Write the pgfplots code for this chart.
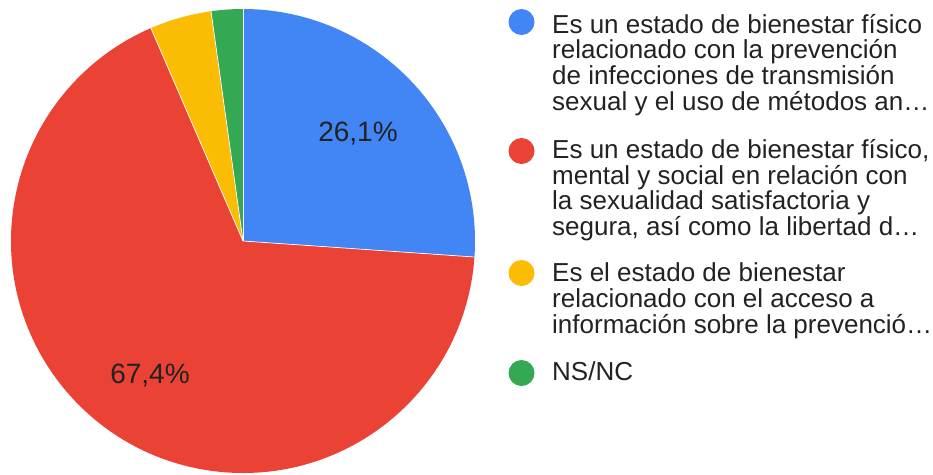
\documentclass[border=0pt]{standalone}
\usepackage{pgfplots}
\pgfplotsset{compat=1.18}
\usepackage{fontspec}
\setmainfont{Liberation Sans}

\definecolor{gblue}{HTML}{4285F4}
\definecolor{gred}{HTML}{EA4335}
\definecolor{gyellow}{HTML}{FBBC04}
\definecolor{ggreen}{HTML}{34A853}
\definecolor{txt}{HTML}{222222}

% shares in percent
\def\vBlue{26.1}
\def\vRed{67.4}
\def\vYellow{4.3}
\def\vGreen{2.2}

\begin{document}
\begin{tikzpicture}
\begin{axis}[
    name=ax,
    width=933pt, height=474pt, scale only axis,
    xmin=0, xmax=933, ymin=0, ymax=474, y dir=reverse,
    hide axis, clip=false,
  ]
% pie, centre (243,241), radius 232, clockwise from 12 o'clock
\fill[gblue] (axis cs:243,241) -- ++(90:232pt)
  arc[start angle=90, delta angle={-3.6*\vBlue}, radius=232pt] -- cycle;
\fill[gred] (axis cs:243,241) -- ++({90-3.6*\vBlue}:232pt)
  arc[start angle={90-3.6*\vBlue}, delta angle={-3.6*\vRed}, radius=232pt] -- cycle;
\fill[gyellow] (axis cs:243,241) -- ++({90-3.6*(\vBlue+\vRed)}:232pt)
  arc[start angle={90-3.6*(\vBlue+\vRed)}, delta angle={-3.6*\vYellow}, radius=232pt] -- cycle;
\fill[ggreen] (axis cs:243,241) -- ++({90-3.6*(\vBlue+\vRed+\vYellow)}:232pt)
  arc[start angle={90-3.6*(\vBlue+\vRed+\vYellow)}, delta angle={-3.6*\vGreen}, radius=232pt] -- cycle;
\draw[white, line width=0.7pt] (axis cs:243,241) -- ++(90:232pt);
\draw[white, line width=0.7pt] (axis cs:243,241) -- ++({90-3.6*\vBlue}:232pt);
\draw[white, line width=0.7pt] (axis cs:243,241) -- ++({90-3.6*(\vBlue+\vRed)}:232pt);
\draw[white, line width=0.7pt] (axis cs:243,241) -- ++({90-3.6*(\vBlue+\vRed+\vYellow)}:232pt);
% slice labels
\node[txt, font=\fontsize{28}{28}\selectfont] at (axis cs:358,134) {26,1\%};
\node[txt, font=\fontsize{28}{28}\selectfont] at (axis cs:150,376) {67,4\%};
% legend
\fill[gblue]   (axis cs:521.5,22)  circle[radius=13pt];
\fill[gred]    (axis cs:521.5,151) circle[radius=13pt];
\fill[gyellow] (axis cs:521.5,273) circle[radius=13pt];
\fill[ggreen]  (axis cs:521.5,373) circle[radius=13pt];
\begin{scope}[every node/.style={anchor=base west, inner sep=0pt, text=txt,
    font=\fontsize{26}{26}\selectfont}]
\node at (axis cs:552,33)    {Es un estado de bienestar físico};
\node at (axis cs:552,58.7)  {relacionado con la prevención};
\node at (axis cs:552,84.3)  {de infecciones de transmisión};
\node at (axis cs:552,110)   {sexual y el uso de métodos an…};
\node at (axis cs:552,158.5) {Es un estado de bienestar físico,};
\node at (axis cs:552,184.2) {mental y social en relación con};
\node at (axis cs:552,209.9) {la sexualidad satisfactoria y};
\node at (axis cs:552,235.6) {segura, así como la libertad d…};
\node at (axis cs:552,281.7) {Es el estado de bienestar};
\node at (axis cs:552,307.4) {relacionado con el acceso a};
\node at (axis cs:552,333.1) {información sobre la prevenció…};
\node at (axis cs:552,380.5) {NS/NC};
\end{scope}
\end{axis}
\pgfresetboundingbox
\path (ax.south west) rectangle (ax.north east);
\end{tikzpicture}
\end{document}
